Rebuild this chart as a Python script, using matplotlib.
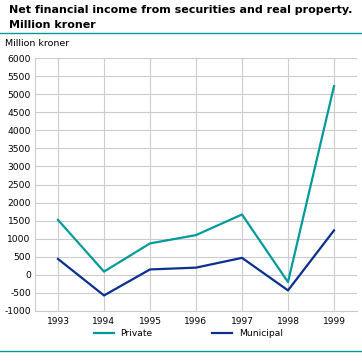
import matplotlib
matplotlib.use("Agg")
import matplotlib.pyplot as plt
from matplotlib.lines import Line2D

# Data
years = [1993, 1994, 1995, 1996, 1997, 1998, 1999]
private = [1520, 90, 870, 1100, 1670, -200, 5220]
municipal = [440, -570, 150, 200, 470, -430, 1230]
yticks = list(range(-1000, 6001, 500))

teal = "#009a9a"
navy = "#0a2f8f"
grid = "#cccccc"

plt.rcParams["font.family"] = ["DejaVu Sans"]

fig = plt.figure(figsize=(3.62, 3.61), dpi=100)
ax = fig.add_axes([35 / 362, 1 - 311 / 361, 322 / 362, 253 / 361])

ax.plot(years, private, color=teal, lw=1.6, label="Private")
ax.plot(years, municipal, color=navy, lw=1.6, label="Municipal")

ax.set_xlim(1992.5, 1999.5)
ax.set_ylim(-1000, 6000)
ax.set_xticks(years)
ax.set_yticks(yticks)
ax.set_yticklabels([str(v) for v in yticks])
ax.grid(True, color=grid, lw=0.8)
ax.set_axisbelow(True)
for s in ["top", "right"]:
    ax.spines[s].set_visible(False)
for s in ["left", "bottom"]:
    ax.spines[s].set_color(grid)
    ax.spines[s].set_linewidth(0.8)
ax.tick_params(length=0, labelsize=6.6, colors="#000000")
ax.tick_params(axis="y", pad=3)
ax.tick_params(axis="x", pad=4)

# title and unit label
fig.text(9 / 362, 1 - 10 / 361, "Net financial income from securities and real property.",
         fontsize=8.0, fontweight="bold", va="center", ha="left")
fig.text(9 / 362, 1 - 25 / 361, "Million kroner",
         fontsize=8.0, fontweight="bold", va="center", ha="left")
fig.text(5 / 362, 1 - 44 / 361, "Million kroner", fontsize=6.8, va="center", ha="left")

# teal rules at top and bottom
fig.add_artist(Line2D([0, 1], [1 - 33 / 361] * 2, color=teal, lw=1.0))
fig.add_artist(Line2D([0, 1], [1 - 351 / 361] * 2, color=teal, lw=1.0))

fig.legend(loc="center", bbox_to_anchor=(0.52, 1 - 334 / 361), ncol=2, frameon=False,
           fontsize=6.6, handlelength=2.2, columnspacing=6.5, handletextpad=0.7)

fig.savefig("out.png", dpi=100)
